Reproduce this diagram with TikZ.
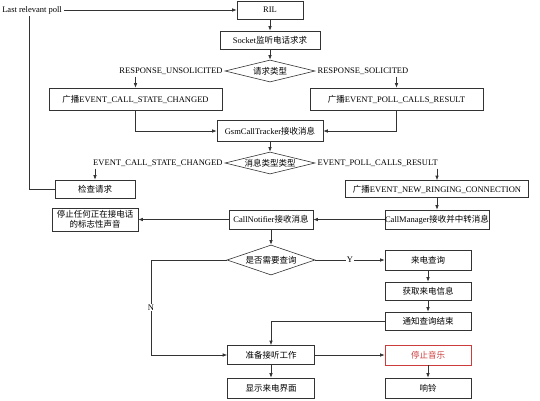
\documentclass[tikz,border=0pt]{standalone}
\usepackage{fontspec}
\setmainfont{Liberation Serif}
\newfontfamily\cjk{Noto Sans CJK SC}
\usetikzlibrary{shapes.geometric, arrows.meta}

\newcommand{\zh}[1]{{\cjk #1}}
\definecolor{stopred}{RGB}{205,60,60}

\begin{document}
\begin{tikzpicture}[x=1pt, y=-1pt, >={Latex[length=4.5pt,width=3.5pt]},
  line width=0.6pt, font=\fontsize{8.5}{10}\selectfont,
  box/.style={draw=black!80, rectangle, inner sep=0pt, align=center},
  dec/.style={draw=black!80, diamond, aspect=4, inner sep=0pt,
    minimum width=90pt, minimum height=22pt},
  lbl/.style={inner sep=2pt},
  link/.style={draw=black!80}]

  \useasboundingbox (0,0) rectangle (540,400);

  % --- Entrada ---
  \node[lbl, anchor=west] (poll) at (0,10) {Last relevant poll};
  \node[box, minimum width=66pt, minimum height=18pt] (ril) at (270,10) {RIL};
  \node[box, minimum width=100pt, minimum height=18pt] (sock) at (270,40)
    {Socket\zh{监听电话求求}};

  % --- Tipo de solicitud ---
  \node[dec] (kind) at (270,71) {\zh{请求类型}};
  \node[lbl, anchor=east] (unsol) at (kind.west) {RESPONSE\_UNSOLICITED};
  \node[lbl, anchor=west] (sol)   at (kind.east) {RESPONSE\_SOLICITED};
  \node[box, minimum width=173pt, minimum height=22pt] (bcsc) at (135.5,99)
    {\zh{广播}EVENT\_CALL\_STATE\_CHANGED};
  \node[box, minimum width=173pt, minimum height=22pt] (bpcr) at (396.5,99)
    {\zh{广播}EVENT\_POLL\_CALLS\_RESULT};
  \node[box, minimum width=106pt, minimum height=21pt] (gsm) at (270,131)
    {GsmCallTracker\zh{接收消息}};

  % --- Tipo de mensaje ---
  \node[dec] (msg) at (270,163) {\zh{消息类型类型}};
  \node[lbl, anchor=east] (csc) at (msg.west) {EVENT\_CALL\_STATE\_CHANGED};
  \node[lbl, anchor=west] (pcr) at (msg.east) {EVENT\_POLL\_CALLS\_RESULT};
  \node[box, minimum width=80pt, minimum height=18pt] (check) at (95,189)
    {\zh{检查请求}};
  \node[box, minimum width=183pt, minimum height=17pt] (ringing) at (437,189)
    {\zh{广播}EVENT\_NEW\_RINGING\_CONNECTION};
  \node[box, minimum width=103pt, minimum height=19pt] (mgr) at (437,219.5)
    {CallManager\zh{接收并中转消息}};
  \node[box, minimum width=84pt, minimum height=19pt] (notif) at (271,219.5)
    {CallNotifier\zh{接收消息}};
  \node[box, minimum width=86pt, minimum height=23pt] (mute) at (95,219.5)
    {\zh{停止任何正在接电话}\\\zh{的标志性声音}};

  % --- Consulta ---
  \node[dec, minimum width=88pt, minimum height=30pt] (ask) at (271,260)
    {\zh{是否需要查询}};
  \coordinate (nbend) at (151,260);
  \node[box, minimum width=86pt, minimum height=20pt] (lookup) at (428,260)
    {\zh{来电查询}};
  \node[box, minimum width=86pt, minimum height=18pt] (info) at (428,291)
    {\zh{获取来电信息}};
  \node[box, minimum width=86pt, minimum height=18pt] (done) at (428,321)
    {\zh{通知查询结束}};
  \node[box, minimum width=87pt, minimum height=19pt] (prep) at (271,355)
    {\zh{准备接听工作}};
  \node[box, draw=stopred, text=stopred, minimum width=86pt, minimum height=20pt]
    (stopmusic) at (428,355) {\zh{停止音乐}};
  \node[box, minimum width=87pt, minimum height=20pt] (show) at (271,388)
    {\zh{显示来电界面}};
  \node[box, minimum width=86pt, minimum height=20pt] (bell) at (428,388)
    {\zh{响铃}};

  % --- Conectores ---
  \draw[link, ->] (poll) -- (ril);
  \draw[link] (check.west) -| ([xshift=-3pt]poll.south);
  \draw[link, ->] (ril) -- (sock);
  \draw[link, ->] (sock) -- (kind);
  \draw[link] (kind.west) -- (unsol.east);
  \draw[link] (kind.east) -- (sol.west);
  \draw[link, ->] (unsol.south -| bcsc) -- (bcsc);
  \draw[link, ->] (sol.south -| bpcr) -- (bpcr);
  \draw[link, ->] (bcsc) |- (gsm);
  \draw[link, ->] (bpcr) |- (gsm);
  \draw[link, ->] (gsm) -- (msg);
  \draw[link] (msg.west) -- (csc.east);
  \draw[link] (msg.east) -- (pcr.west);
  \draw[link, ->] (csc.south -| check) -- (check);
  \draw[link, ->] (pcr.south -| ringing) -- (ringing);
  \draw[link, ->] (ringing) -- (mgr);
  \draw[link, ->] (mgr) -- (notif);
  \draw[link, ->] (notif) -- (mute);
  \draw[link, ->] (notif) -- (ask);
  \draw[link, ->] (ask) -- node[fill=white, inner sep=1pt] {Y} (lookup);
  \draw[link, ->] (ask.west) -- (nbend) |- node[pos=0.25, fill=white, inner sep=1pt] {N} (prep);
  \draw[link, ->] (lookup) -- (info);
  \draw[link, ->] (info) -- (done);
  \draw[link, ->] (done.west) -| (prep.north);
  \draw[link, ->] (prep) -- (stopmusic);
  \draw[link, ->] (stopmusic) -- (bell);
  \draw[link, ->] (prep) -- (show);

\end{tikzpicture}
\end{document}
